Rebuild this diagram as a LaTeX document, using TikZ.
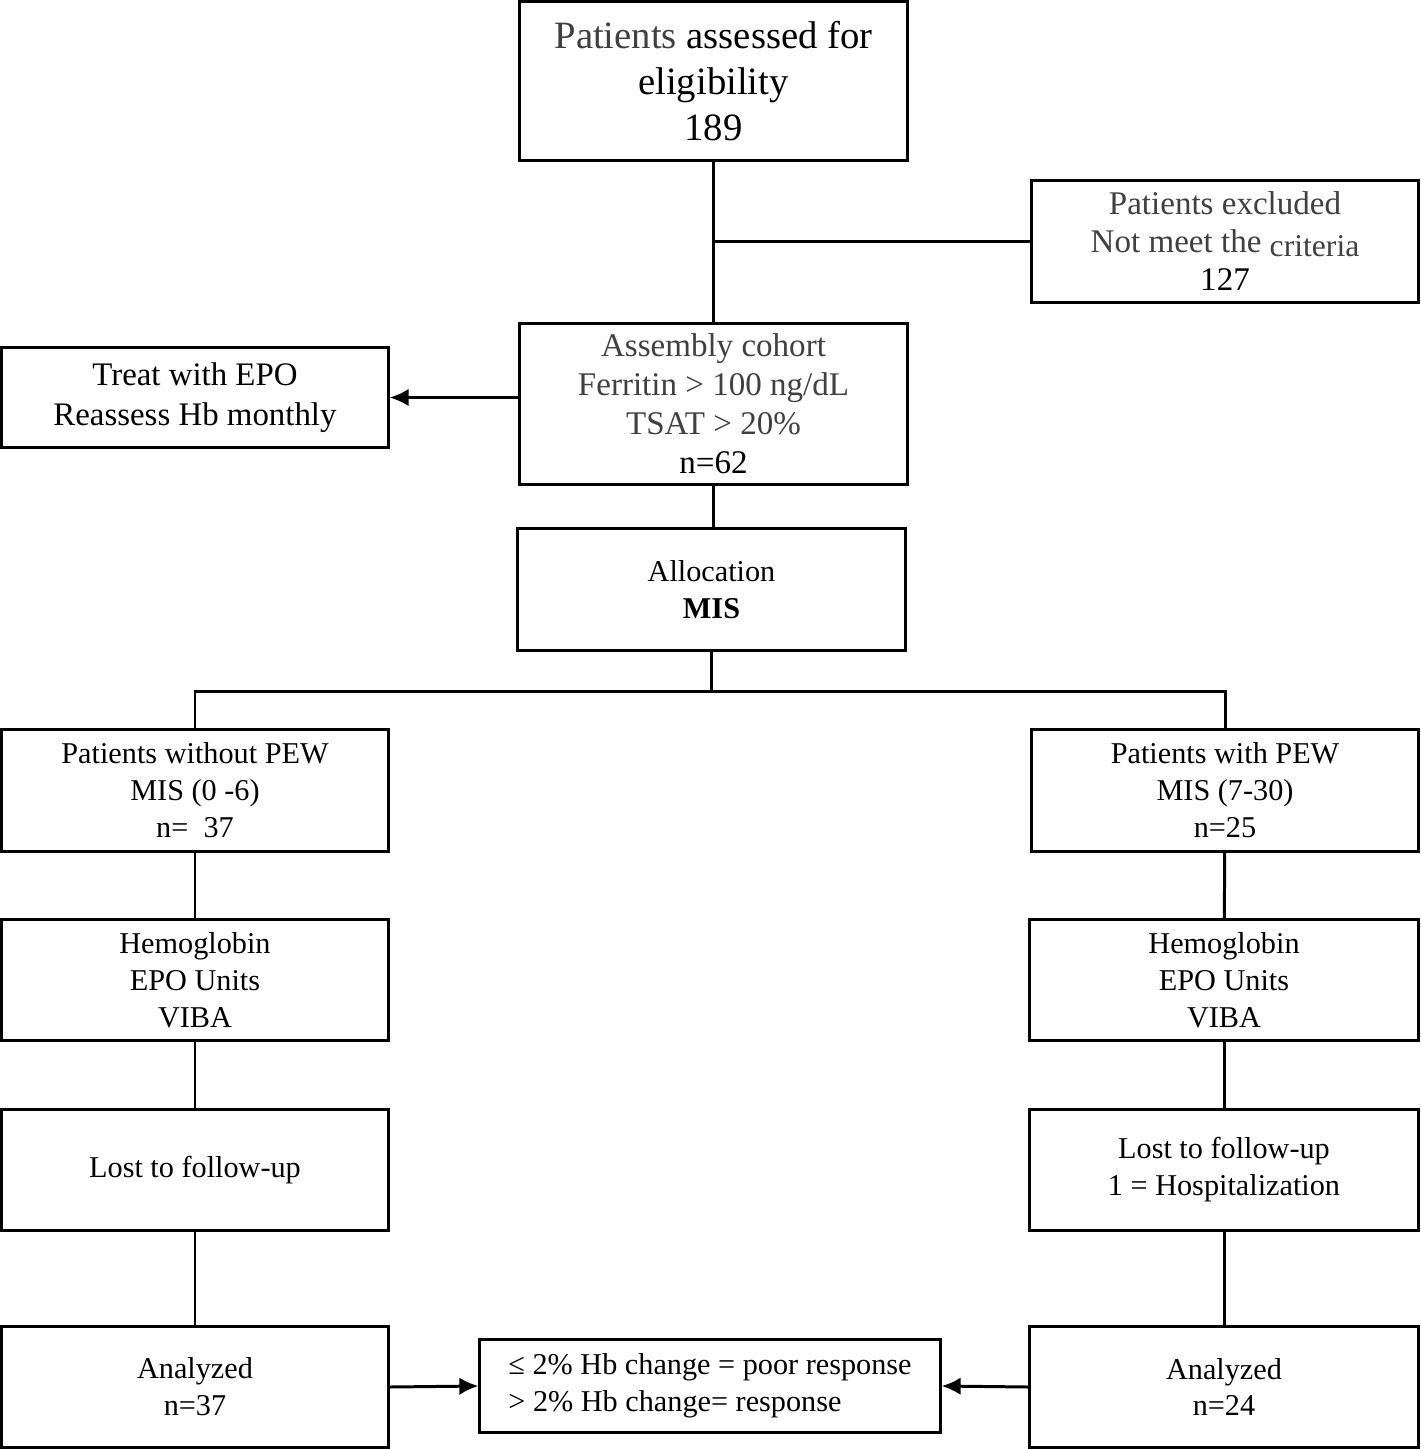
\documentclass[tikz,border=0pt]{standalone}
\usepackage{fontspec}
\setmainfont{Liberation Serif}
\usetikzlibrary{arrows,arrows.meta,positioning}
\definecolor{softgray}{HTML}{404040}

\begin{document}
\begin{tikzpicture}
		[x=0.01cm,y=-0.01cm,>={Latex[length=5.4pt,width=5pt]},
		box/.style={shape=rectangle,draw,line width=0.85pt,fill=white,inner sep=0pt,align=center,font=\fontsize{8.6}{10.5}\selectfont},
		flow/.style={line width=0.85pt}
		]
		\useasboundingbox (0,0) rectangle (1420,1449);
		
		% top part
		\node [box,minimum width=3.87cm,minimum height=1.58cm,font=\fontsize{11}{13.1}\selectfont] (top) at (713.5,81) {\textcolor{softgray}{Patients} assessed for\\ eligibility\\ 189};
		\node [box,minimum width=3.86cm,minimum height=1.21cm,font=\fontsize{9.4}{10.8}\selectfont] (excl) at (1225,241.5) {\textcolor{softgray}{Patients excluded}\\ \textcolor{softgray}{Not meet the \raisebox{-1pt}{\fontsize{9}{10}\selectfont criteria}}\\ 127};
		\node [box,minimum width=3.87cm,minimum height=1.60cm,font=\fontsize{9.4}{11.1}\selectfont] (cohort) at (713.5,404) {\textcolor{softgray}{Assembly cohort}\\ \textcolor{softgray}{Ferritin > 100 ng/dL}\\ \textcolor{softgray}{TSAT > 20\%}\\ n=62};
		\node [box,minimum width=3.86cm,minimum height=0.99cm,font=\fontsize{9.35}{11.3}\selectfont] (treat) at (195,397.5) {Treat with EPO\\ Reassess Hb monthly};
		\node [box,minimum width=3.87cm,minimum height=1.21cm] (alloc) at (711.5,589.5) {Allocation\\ \textbf{MIS}};
		
		% left branch
		\node [box,minimum width=3.86cm,minimum height=1.21cm] (nopew) at (195,790.5) {Patients without PEW\\ MIS (0 -6)\\ n=~~37};
		\node [box,minimum width=3.86cm,minimum height=1.20cm] (hbL) at (195,980) {Hemoglobin\\ EPO Units\\ VIBA};
		\node [box,minimum width=3.86cm,minimum height=1.20cm] (lostL) at (195,1170) {Lost to follow-up};
		\node [box,minimum width=3.86cm,minimum height=1.20cm] (anaL) at (195,1387) {Analyzed\\ n=37};
		
		% right branch
		\node [box,minimum width=3.86cm,minimum height=1.21cm] (pew) at (1225,790.5) {Patients with PEW\\ MIS (7-30)\\ n=25};
		\node [box,minimum width=3.88cm,minimum height=1.20cm] (hbR) at (1224,980) {Hemoglobin\\ EPO Units\\ VIBA};
		\node [box,minimum width=3.88cm,minimum height=1.20cm] (lostR) at (1224,1170) {Lost to follow-up\\ 1 = Hospitalization};
		\node [box,minimum width=3.88cm,minimum height=1.20cm] (anaR) at (1224,1387) {Analyzed\\ n=24};
		
		\node [box,minimum width=4.6cm,minimum height=0.92cm,align=left] (resp) at (710,1386) {≤ 2\% Hb change = poor response\\ > 2\% Hb change= response};
		
		% connectors
		\draw[flow] (top.south) -- (top.south |- cohort.north);
		\draw[flow] (top.south |- excl.west) -- (excl.west);
		\draw[flow,->] (cohort.west |- treat.east) -- (treat.east);
		\draw[flow] (cohort.south) -- (cohort.south |- alloc.north);
		\draw[flow] (alloc.south) -- ++(0,40) -| (nopew.north);
		\draw[flow] (alloc.south) -- ++(0,40) -| (pew.north);
		
		\path[flow]
		(nopew) edge (hbL)
		(hbL) edge (lostL)
		(lostL) edge (anaL)
		(pew) edge (hbR)
		(hbR) edge (lostR)
		(lostR) edge (anaR)
		;
		
		\draw[flow,->] (anaL.east) -- (resp.west);
		\draw[flow,->] (anaR.west) -- (resp.east);
		
\end{tikzpicture}
\end{document}
